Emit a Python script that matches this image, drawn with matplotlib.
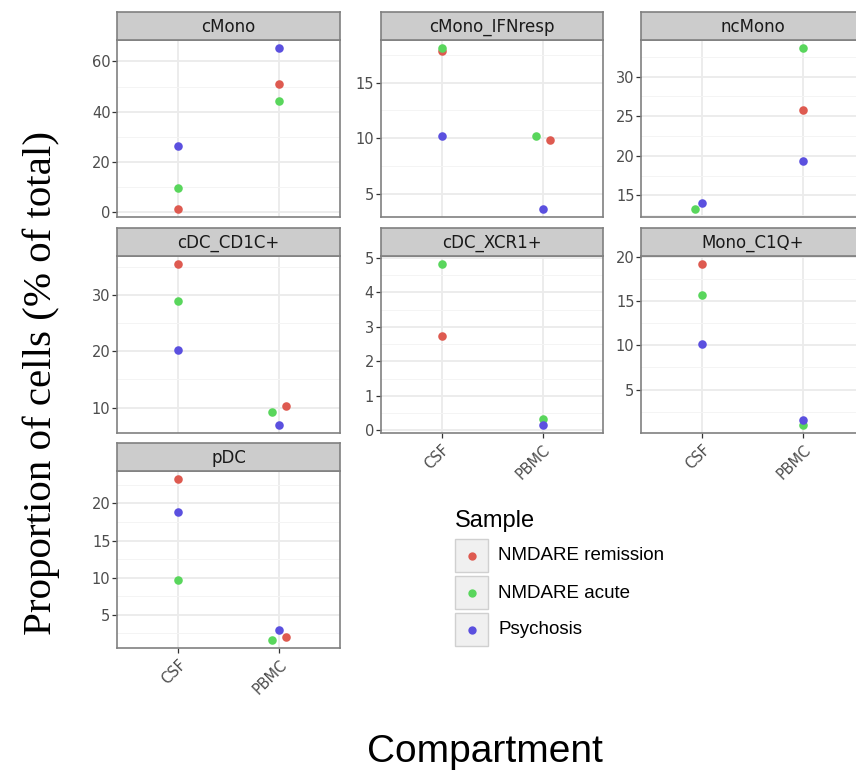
import numpy as np
import matplotlib
matplotlib.use("Agg")
import matplotlib.pyplot as plt
from matplotlib.ticker import MultipleLocator, NullFormatter
from matplotlib.patches import Rectangle
from matplotlib.lines import Line2D

# Data (proportion of cells, % of total)
panels = ["cMono", "cMono_IFNresp", "ncMono", "cDC_CD1C+", "cDC_XCR1+", "Mono_C1Q+", "pDC"]
compartments = ["CSF", "PBMC"]
samples = ["NMDARE remission", "NMDARE acute", "Psychosis"]

# values[sample] -> per panel [CSF, PBMC]; nan where no point is visible
remission = [[1.3, 51.0], [17.8, 9.85], [np.nan, 25.8], [35.5, 10.2], [2.74, np.nan], [19.2, np.nan], [23.3, 2.03]]
acute = [[9.5, 44.3], [18.1, 10.2], [13.3, 33.6], [28.9, 9.2], [4.82, 0.32], [15.7, 1.0], [9.65, 1.58]]
psychosis = [[26.5, 65.3], [10.2, 3.65], [14.1, 19.4], [20.3, 6.9], [np.nan, 0.16], [10.2, 1.55], [18.8, 2.93]]

colors = ["#DE5A50", "#59D65C", "#5B50DF"]
tick_step = [20, 5, 5, 10, 1, 5, 5]

# little horizontal nudges (-1 left, +1 right) where points sit next to each other
nudge = {
    ("cMono_IFNresp", 1, 0): 1, ("cMono_IFNresp", 1, 1): -1,
    ("ncMono", 0, 1): -1,
    ("cDC_CD1C+", 1, 0): 1, ("cDC_CD1C+", 1, 1): -1,
    ("pDC", 1, 0): 1, ("pDC", 1, 1): -1,
}
NUDGE_W = 0.07

W, H = 856, 773
fig = plt.figure(figsize=(W / 100, H / 100), dpi=100)

col_left = [117.4, 381.0, 641.4]
panel_w = 222.2
row_top = [40, 256, 471]
panel_h = 177
strip_h = 28
border = "#808080"

series = [remission, acute, psychosis]
bottom_panels = {"pDC", "cDC_XCR1+", "Mono_C1Q+"}

for i, name in enumerate(panels):
    r, c = divmod(i, 3)
    x0, y0 = col_left[c], row_top[r]
    ax = fig.add_axes([x0 / W, 1 - (y0 + panel_h) / H, panel_w / W, panel_h / H])
    ax.set_facecolor("white")

    vals = [v for s in series for v in s[i] if not np.isnan(v)]
    lo, hi = min(vals), max(vals)
    pad = (hi - lo) * 0.05
    ax.set_ylim(lo - pad, hi + pad)
    ax.set_xlim(-0.6, 1.6)

    ax.yaxis.set_major_locator(MultipleLocator(tick_step[i]))
    ax.yaxis.set_minor_locator(MultipleLocator(tick_step[i] / 2))
    ax.yaxis.set_minor_formatter(NullFormatter())
    ax.set_xticks([0, 1])
    ax.grid(True, which="major", color="#EBEBEB", linewidth=1.3)
    ax.grid(True, which="minor", axis="y", color="#F4F4F4", linewidth=0.7)
    ax.set_axisbelow(True)

    for k, s in enumerate(series):
        for j in range(2):
            v = s[i][j]
            if np.isnan(v):
                continue
            xpos = j + NUDGE_W * nudge.get((name, j, k), 0)
            ax.scatter([xpos], [v], s=38, color=colors[k], linewidths=0, zorder=3)

    for sp in ax.spines.values():
        sp.set_color(border)
        sp.set_linewidth(1.2)
    ax.tick_params(axis="y", which="major", length=3.5, width=0.9, color="#333333",
                   labelsize=10.5, labelcolor="#4D4D4D", pad=1.5)
    ax.tick_params(axis="y", which="minor", length=0)
    if name in bottom_panels:
        ax.set_xticklabels(compartments, rotation=45, ha="right", rotation_mode="anchor",
                           fontsize=10.5, color="#4D4D4D")
        ax.tick_params(axis="x", length=3.5, width=0.9, color="#333333", pad=3)
    else:
        ax.set_xticklabels([])
        ax.tick_params(axis="x", length=0)

    # facet strip
    sax = fig.add_axes([x0 / W, 1 - y0 / H, panel_w / W, strip_h / H])
    sax.set_facecolor("#CCCCCC")
    sax.set_xticks([])
    sax.set_yticks([])
    for sp in sax.spines.values():
        sp.set_color(border)
        sp.set_linewidth(1.2)
    sax.text(0.5, 0.48, name, ha="center", va="center", fontsize=12, color="#1A1A1A",
             transform=sax.transAxes)

# axis titles
fig.text(485 / W, 1 - 752 / H, "Compartment", ha="center", va="center",
         fontsize=28, family="Liberation Sans", color="black")
fig.text(41 / W, 1 - 383 / H, "Proportion of cells (% of total)", ha="center", va="center",
         rotation=90, fontsize=29.5, family="Liberation Serif", color="black")

# legend drawn by hand to copy the ggplot key boxes
fig.text(455 / W, 1 - 521 / H, "Sample", ha="left", va="center", fontsize=17,
         family="Liberation Sans")
key_top = [539, 576, 613]
for k, lab in enumerate(samples):
    kx, ky = 455, key_top[k]
    fig.add_artist(Rectangle((kx / W, 1 - (ky + 33) / H), 33 / W, 33 / H,
                             transform=fig.transFigure, facecolor="#F0F0F0",
                             edgecolor="#D0D0D0", linewidth=1.0))
    fig.add_artist(Line2D([(kx + 16.5) / W], [1 - (ky + 16.5) / H], marker="o",
                          markersize=6, color=colors[k], markeredgewidth=0,
                          transform=fig.transFigure))
    fig.text(498 / W, 1 - (ky + 17) / H, lab, ha="left", va="center", fontsize=13.5,
             family="Liberation Sans")

fig.savefig("out.png", dpi=100)
